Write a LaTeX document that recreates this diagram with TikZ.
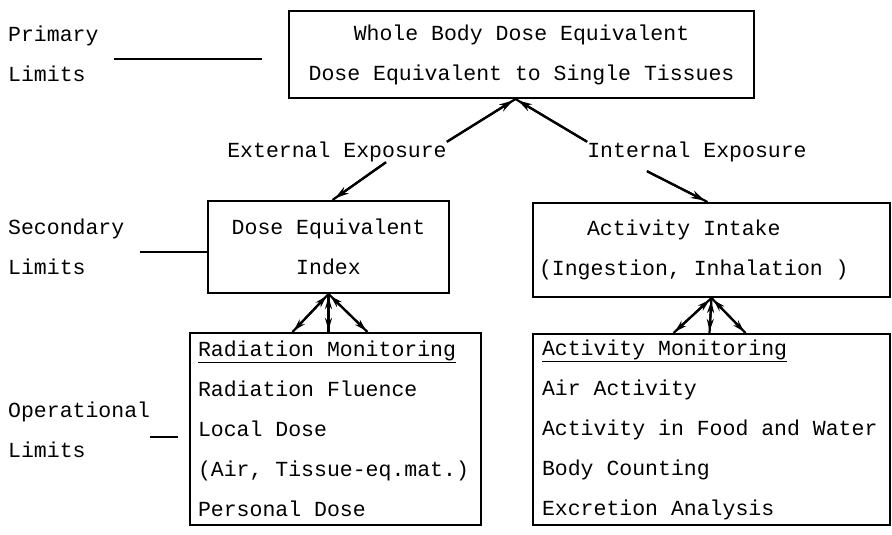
\documentclass[tikz,border=0pt]{standalone}
\usepackage{fontspec}
\setmonofont{Liberation Mono}
\usetikzlibrary{arrows.meta}
\newcommand\fullsp{\spaceskip=0pt\xspaceskip=0pt\relax}
\tikzset{
  box/.style={draw, line width=2pt, inner ysep=0pt},
  lbl/.style={inner sep=0pt},
  conn/.style={line width=2.2pt},
  headed/.style={postaction={draw, line width=2.2pt, -{Stealth[length=14pt,width=8pt]}, shorten >=3pt}},
  bothheaded/.style={postaction={draw, line width=2.2pt, {Stealth[length=12pt,width=7pt]}-{Stealth[length=12pt,width=7pt]}, shorten >=2pt, shorten <=3pt}},
  limline/.style={line width=1.2pt}
}
\begin{document}
\begin{tikzpicture}[x=1pt, y=-1pt, every node/.style={font=\ttfamily\fontsize{21.5}{40}\selectfont}]
  \useasboundingbox (0,0) rectangle (892,535);
  \node[box, minimum width=465pt, minimum height=87pt, align=center] (primary) at (521.5,54.5) {Whole Body Dose Equivalent\\Dose Equivalent to Single Tissues};
  \node[box, minimum width=241pt, minimum height=92pt, align=center] (dei) at (328.5,247) {Dose Equivalent\\Index};
  \node[box, minimum height=94pt, text width=345pt, inner xsep=6pt, align=left] (intake) at (711.5,250) {\fullsp\hspace*{48pt}Activity Intake\\(Ingestion, Inhalation )};
  \node[box, minimum height=192pt, text width=275pt, inner xsep=8pt, align=left] (radmon) at (335.5,429) {\fullsp\underline{Radiation Monitoring}\\Radiation Fluence\\Local Dose\\(Air, Tissue-eq.mat.)\\Personal Dose};
  \node[box, minimum height=191pt, text width=339pt, inner xsep=9pt, align=left] (actmon) at (711.5,429.5) {\fullsp\underline{Activity Monitoring}\\Air Activity\\Activity in Food and Water\\Body Counting\\Excretion Analysis};
  \node[lbl] (extlbl) at (337,152) {External Exposure};
  \node[lbl] (intlbl) at (697,152) {Internal Exposure};
  \node[lbl, align=left, anchor=west] (prilbl) at (8,54) {\fullsp Primary\\Limits};
  \node[lbl, align=left, anchor=west] (seclbl) at (8,247) {\fullsp Secondary\\Limits};
  \node[lbl, align=left, anchor=west] (oplbl) at (8,430) {\fullsp Operational\\Limits};
  \draw[limline] ([shift={(15pt,-5pt)}]prilbl.east) -- +(148,0);
  \draw[limline] ([shift={(15pt,-5pt)}]seclbl.east) -- +(69,0);
  \draw[limline] ([shift={(0pt,-7pt)}]oplbl.east) -- +(28,0);
  \draw[conn, headed] (extlbl.north east) -- ([xshift=-6pt]primary.south);
  \draw[conn, headed] (intlbl.north west) -- ([xshift=-6pt]primary.south);
  \draw[conn, headed] ([xshift=49pt]extlbl.south) -- ([xshift=4pt]dei.north);
  \draw[conn, headed] ([shift={(-50pt,-9pt)}]intlbl.south) -- ([xshift=-4pt]intake.north);
  \foreach \dx in {-36,0,39}
    \draw[conn, bothheaded] (dei.south) -- ([xshift=\dx pt]dei.south |- radmon.north);
  \foreach \dx in {-38,-2,34}
    \draw[conn, bothheaded] (intake.south) -- ([xshift=\dx pt]intake.south |- actmon.north);
\end{tikzpicture}
\end{document}
